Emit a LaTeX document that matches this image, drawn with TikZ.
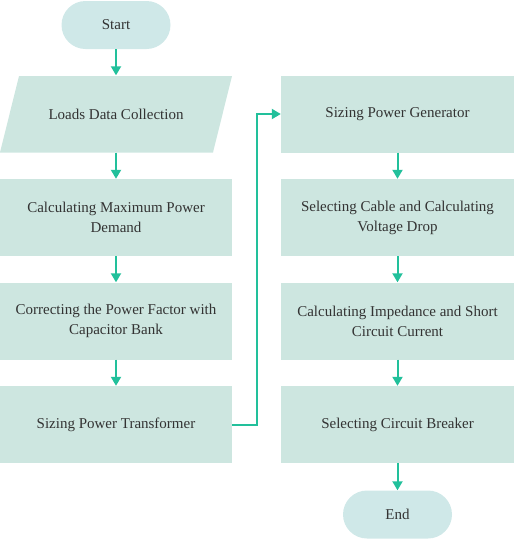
\documentclass[tikz,border=0pt]{standalone}
\usepackage{fontspec}
\setmainfont{Liberation Serif}
\usetikzlibrary{arrows.meta}
\definecolor{boxfill}{HTML}{CDE6E0}
\definecolor{termfill}{HTML}{CFE8E8}
\definecolor{flowline}{HTML}{22C09B}
\definecolor{txt}{HTML}{333333}
\tikzset{
  procbox/.style={fill=boxfill, minimum width=232pt, minimum height=77pt,
    align=center, inner sep=0pt, text=txt, font=\rmfamily\fontsize{15}{20}\selectfont},
  iobox/.style={minimum width=213pt, minimum height=77pt,
    align=center, inner sep=0pt, text=txt, font=\rmfamily\fontsize{15}{20}\selectfont},
  termbox/.style={fill=termfill, rounded corners=24pt, minimum width=109pt, minimum height=48pt,
    inner sep=0pt, text=txt, font=\rmfamily\fontsize{15}{20}\selectfont},
  flow/.style={draw=flowline, line width=2pt, -{Triangle[length=9pt,width=10pt]}}
}
\begin{document}
\begin{tikzpicture}[x=1pt,y=-1pt]
  \useasboundingbox (0,0) rectangle (515,539);
  % left column
  \node[termbox] (start) at (116,25) {Start};
  \fill[boxfill] (19,76) -- (232,76) -- (213,152.5) -- (0,152.5) -- cycle;
  \node[iobox] (loads) at (116,114) {Loads Data Collection};
  \node[procbox] (maxdem) at (116,217.5) {Calculating Maximum Power\\Demand};
  \node[procbox] (pfcorr) at (116,321) {Correcting the Power Factor with\\Capacitor Bank};
  \node[procbox] (trafo) at (116,424.5) {Sizing Power Transformer};
  % right column
  \node[procbox, minimum width=233pt] (gen) at (397.5,114) {Sizing Power Generator};
  \node[procbox, minimum width=233pt] (cable) at (397.5,217.5) {Selecting Cable and Calculating\\Voltage Drop};
  \node[procbox, minimum width=233pt] (imped) at (397.5,321) {Calculating Impedance and Short\\Circuit Current};
  \node[procbox, minimum width=233pt] (breaker) at (397.5,424.5) {Selecting Circuit Breaker};
  \node[termbox] (end) at (397.5,514.5) {End};
  % connectors
  \draw[flow] (start) -- (loads);
  \draw[flow] (loads) -- (maxdem);
  \draw[flow] (maxdem) -- (pfcorr);
  \draw[flow] (pfcorr) -- (trafo);
  \draw[flow] (trafo.east) -- ++(25,0) |- (gen.west);
  \draw[flow] (gen) -- (cable);
  \draw[flow] (cable) -- (imped);
  \draw[flow] (imped) -- (breaker);
  \draw[flow] (breaker) -- (end);
\end{tikzpicture}
\end{document}
